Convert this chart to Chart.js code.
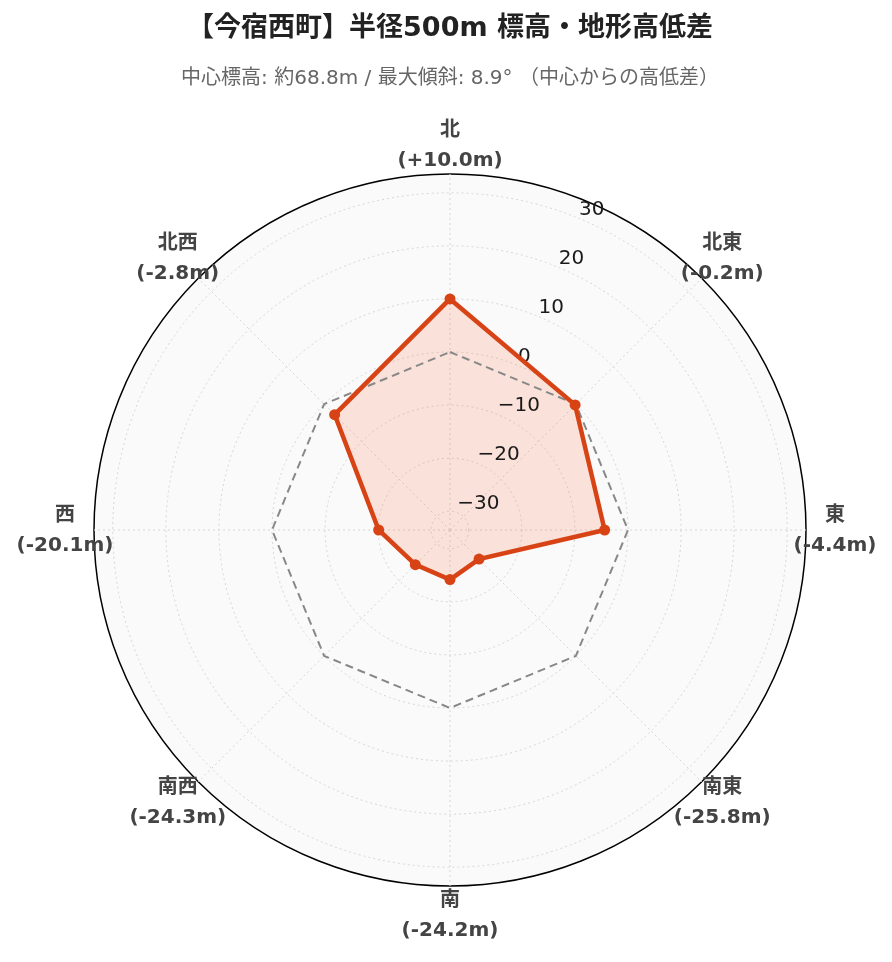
<!DOCTYPE html>
<html>
<head>
<meta charset="utf-8">
<script src="https://cdn.jsdelivr.net/npm/chart.js@4.4.0/dist/chart.umd.min.js"></script>
<style>
  html, body { margin: 0; padding: 0; background: #ffffff; }
  canvas { display: block; }
</style>
</head>
<body>
<canvas id="c" width="892" height="962"></canvas>
<script>
// ---- data ----
const directions = ['北', '北東', '東', '南東', '南', '南西', '西', '北西'];
const elevationDiff = [10.0, -0.2, -4.4, -25.8, -24.2, -24.3, -20.1, -2.8];
const centerReference = [0, 0, 0, 0, 0, 0, 0, 0];
const radialTickValues = [-30, -20, -10, 0, 10, 20, 30];
const radialTickLabels = ['−30', '−20', '−10', '0', '10', '20', '30'];
const titleText = '【今宿西町】半径500m 標高・地形高低差';
const subtitleText = '中心標高: 約68.8m / 最大傾斜: 8.9° （中心からの高低差）';

const RANGE = 33.54;
const R_MIN = -RANGE, R_MAX = RANGE;
const FONT = '"DejaVu Sans", "Noto Sans CJK JP", sans-serif';

const directionValueLabels = elevationDiff.map(v => '(' + (v > 0 ? '+' : '') + v.toFixed(1) + 'm)');

const polarDecor = {
  id: 'polarDecor',
  beforeDraw(chart) {
    const s = chart.scales.r;
    const ctx = chart.ctx;
    ctx.save();
    ctx.fillStyle = '#fafafa';
    ctx.beginPath();
    ctx.arc(s.xCenter, s.yCenter, s.drawingArea, 0, Math.PI * 2);
    ctx.fill();
    ctx.restore();
  },
  beforeDatasetsDraw(chart) {
    const s = chart.scales.r;
    const ctx = chart.ctx;
    const a = 22.5 * Math.PI / 180;
    ctx.save();
    ctx.font = '20px ' + FONT;
    ctx.fillStyle = '#1a1a1a';
    ctx.textAlign = 'left';
    ctx.textBaseline = 'middle';
    radialTickValues.forEach((v, i) => {
      const d = s.getDistanceFromCenterForValue(v);
      const x = s.xCenter + d * Math.sin(a);
      const y = s.yCenter - d * Math.cos(a) - 9;
      ctx.fillText(radialTickLabels[i], x, y);
    });
    ctx.restore();
  },
  afterDraw(chart) {
    const s = chart.scales.r;
    const ctx = chart.ctx;
    ctx.save();
    ctx.font = 'bold 20px ' + FONT;
    ctx.fillStyle = '#444444';
    ctx.textAlign = 'center';
    ctx.textBaseline = 'middle';
    directions.forEach((name, i) => {
      const p = s.getPointPosition(i, s.drawingArea + 29);
      ctx.fillText(name, p.x, p.y - 14);
      ctx.fillText(directionValueLabels[i], p.x, p.y + 16);
    });
    ctx.restore();
  }
};

const isOuter = (ctx) => ctx.tick && Math.abs(ctx.tick.value - R_MAX) < 1e-6;

new Chart(document.getElementById('c'), {
  type: 'radar',
  data: {
    labels: directions,
    datasets: [
      {
        label: '標高差',
        data: elevationDiff,
        borderColor: '#d84315',
        backgroundColor: 'rgba(255, 87, 34, 0.15)',
        borderWidth: 4.5,
        pointRadius: 5.5,
        pointBackgroundColor: '#d84315',
        pointBorderColor: '#d84315',
        pointBorderWidth: 0,
        fill: 'start',
        tension: 0,
        order: 1
      },
      {
        label: '中心基準',
        data: centerReference,
        borderColor: '#888888',
        borderWidth: 2,
        borderDash: [8, 5],
        pointRadius: 0,
        fill: false,
        order: 2
      }
    ]
  },
  options: {
    responsive: false,
    animation: false,
    layout: { padding: { left: 94, right: 86, top: 0, bottom: 76 } },
    plugins: {
      legend: { display: false },
      tooltip: { enabled: false },
      filler: { drawTime: 'beforeDatasetsDraw' },
      title: {
        display: true,
        text: titleText,
        color: '#222222',
        font: { family: FONT, size: 27, weight: 'bold', lineHeight: 1.2 },
        padding: { top: 12.8, bottom: 0 }
      },
      subtitle: {
        display: true,
        text: subtitleText,
        color: '#666666',
        font: { family: FONT, size: 20, weight: 'normal', lineHeight: 1.2 },
        padding: { top: 21.8, bottom: 83 }
      }
    },
    scales: {
      r: {
        min: R_MIN,
        max: R_MAX,
        startAngle: 0,
        afterBuildTicks: (scale) => {
          scale.ticks = [R_MIN].concat(radialTickValues, [R_MAX]).map(v => ({ value: v }));
        },
        ticks: { display: false },
        pointLabels: { display: false },
        grid: {
          circular: true,
          color: (ctx) => isOuter(ctx) ? '#000000' : '#d6d6d6',
          lineWidth: (ctx) => isOuter(ctx) ? 1.5 : 1
        },
        border: {
          dash: (ctx) => isOuter(ctx) ? [] : [2, 3]
        },
        angleLines: {
          color: '#d6d6d6',
          lineWidth: 1,
          borderDash: [2, 3]
        }
      }
    }
  },
  plugins: [polarDecor]
});
</script>
</body>
</html>
